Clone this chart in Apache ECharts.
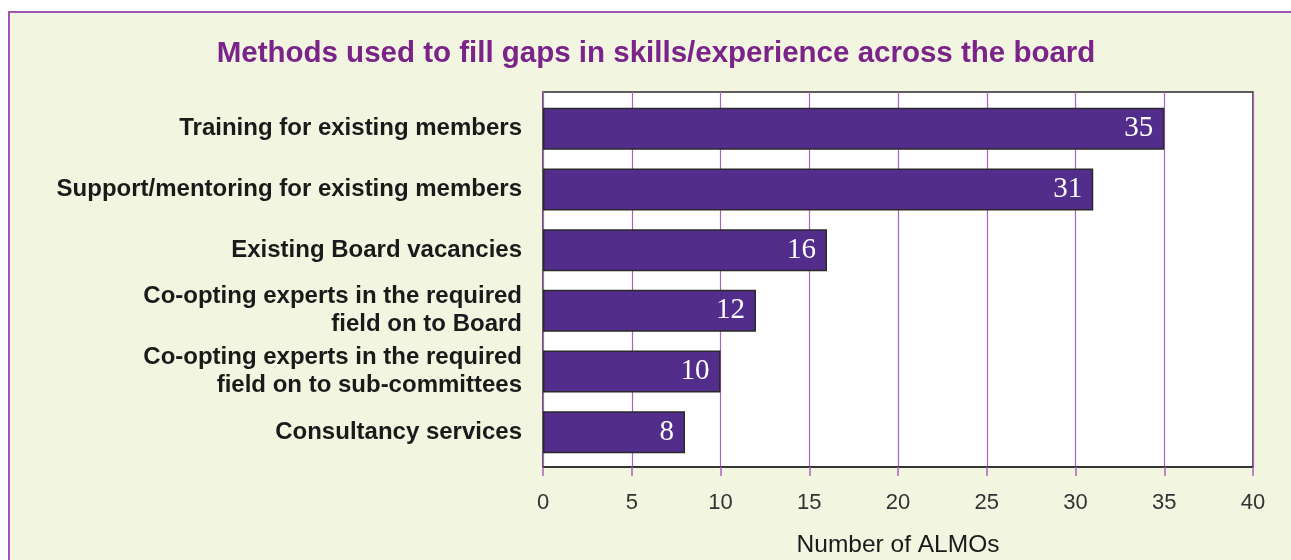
<!DOCTYPE html>
<html>
<head>
<meta charset="utf-8">
<script src="https://cdn.jsdelivr.net/npm/echarts@6/dist/echarts.min.js"></script>
<style>
  html, body { margin: 0; padding: 0; background: #ffffff; }
  #chart { width: 1291px; height: 560px; }
</style>
</head>
<body>
<div id="chart"></div>
<script>
var chartTitle = 'Methods used to fill gaps in skills/experience across the board';
var categories = [
  'Training for existing members',
  'Support/mentoring for existing members',
  'Existing Board vacancies',
  'Co-opting experts in the required\nfield on to Board',
  'Co-opting experts in the required\nfield on to sub-committees',
  'Consultancy services'
];
var almoCounts = [35, 31, 16, 12, 10, 8];
var axisTicks = { min: 0, max: 40, interval: 5 };
var axisTitle = 'Number of ALMOs';

var purple = '#532d8c';
var gridPurple = '#a862c0';
var sans = '"Liberation Sans", Arial, Helvetica, sans-serif';

var chart = echarts.init(document.getElementById('chart'));

var option = {
  animation: false,
  backgroundColor: '#ffffff',
  graphic: [{
    type: 'rect',
    z: -10,
    silent: true,
    shape: { x: 9, y: 12, width: 1320, height: 620 },
    style: { fill: '#f2f5e0', stroke: '#a055b0', lineWidth: 2 }
  }],
  title: {
    text: chartTitle,
    left: 651,
    textAlign: 'center',
    top: 34,
    textStyle: {
      color: '#7a2388',
      fontFamily: sans,
      fontWeight: 'bold',
      fontSize: 29.5
    }
  },
  grid: [
    // bars
    { left: 543, width: 710, top: 98.5, height: 364, show: false, outerBoundsMode: 'none', containLabel: false },
    // plot frame, gridlines and value axis
    {
      left: 543, width: 710, top: 92, height: 375,
      outerBoundsMode: 'none', containLabel: false,
      show: true, backgroundColor: '#ffffff',
      borderColor: '#2a2a2a', borderWidth: 1.5, z: -1
    }
  ],
  xAxis: [
    {
      gridIndex: 0, type: 'value',
      min: axisTicks.min, max: axisTicks.max, interval: axisTicks.interval,
      show: false
    },
    {
      gridIndex: 1, type: 'value',
      min: axisTicks.min, max: axisTicks.max, interval: axisTicks.interval,
      axisLine: { show: true, lineStyle: { color: '#2a2a2a', width: 1.5 } },
      axisTick: { show: true, length: 9, inside: false, lineStyle: { color: gridPurple, width: 1.5 } },
      splitLine: { show: true, lineStyle: { color: gridPurple, width: 1.2 } },
      axisLabel: {
        margin: 25,
        color: '#333333',
        fontFamily: sans,
        fontSize: 22
      },
      name: axisTitle,
      nameLocation: 'middle',
      nameGap: 66,
      nameTextStyle: {
        color: '#1a1a1a',
        fontFamily: sans,
        fontSize: 24.5
      }
    }
  ],
  yAxis: [
    {
      gridIndex: 0, type: 'category', data: categories, inverse: true,
      axisLine: { show: false },
      axisTick: { show: false },
      axisLabel: {
        margin: 21,
        color: '#1a1a1a',
        fontFamily: sans,
        fontWeight: 'bold',
        fontSize: 24,
        lineHeight: 28,
        align: 'right'
      }
    },
    {
      gridIndex: 1, type: 'value', show: false,
      axisLine: { show: false }, splitLine: { show: false }
    }
  ],
  series: [{
    type: 'bar',
    xAxisIndex: 0,
    yAxisIndex: 0,
    data: almoCounts,
    barWidth: 42,
    itemStyle: { color: purple, borderColor: '#2a2a2a', borderWidth: 1.5 },
    label: {
      show: true,
      position: 'insideRight',
      distance: 11,
      color: '#ffffff',
      fontFamily: '"Liberation Serif", "Times New Roman", serif',
      fontSize: 29
    }
  }]
};

chart.setOption(option);
</script>
</body>
</html>
